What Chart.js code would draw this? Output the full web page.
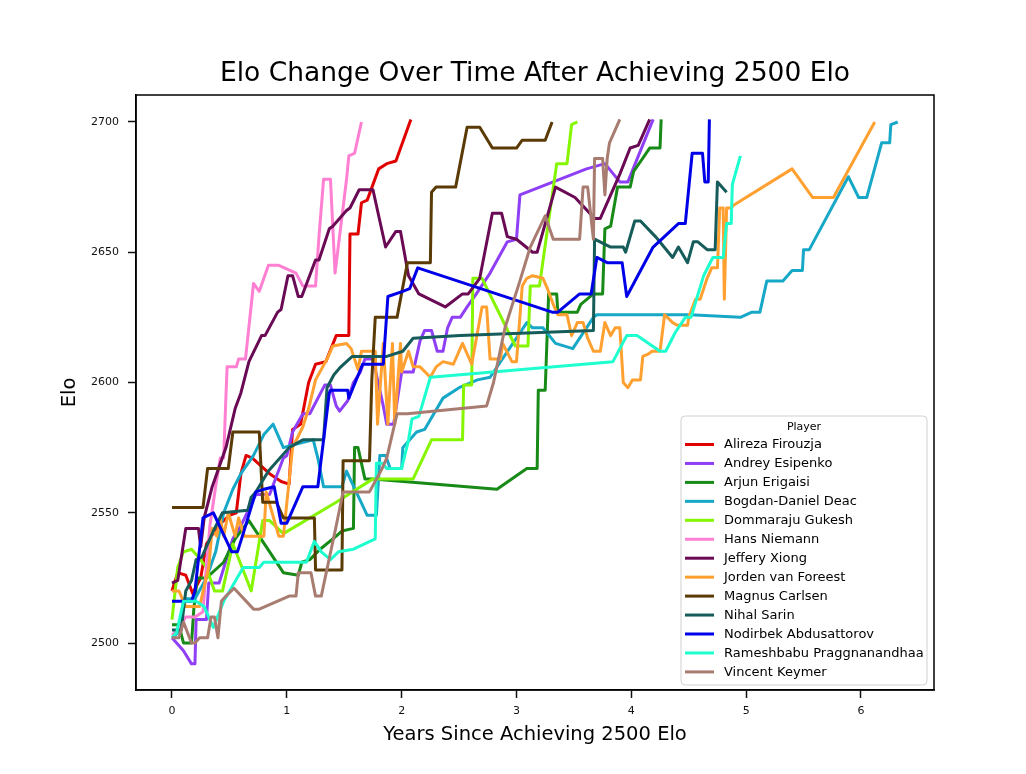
<!DOCTYPE html>
<html>
<head>
<meta charset="utf-8">
<script src="https://cdn.jsdelivr.net/npm/chart.js@4.4.1/dist/chart.umd.min.js"></script>
<style>
  html, body { margin: 0; padding: 0; background: #fff; }
  #c { display: block; }
</style>
</head>
<body>
<canvas id="c" width="1026" height="774"></canvas>
<script>
// ---- Data: [years since 2500, Elo] ----
const players = [
  "Alireza Firouzja", "Andrey Esipenko", "Arjun Erigaisi", "Bogdan-Daniel Deac",
  "Dommaraju Gukesh", "Hans Niemann", "Jeffery Xiong", "Jorden van Foreest",
  "Magnus Carlsen", "Nihal Sarin", "Nodirbek Abdusattorov",
  "Rameshbabu Praggnanandhaa", "Vincent Keymer"
];
const playerColors = [
  "#e00000", "#8f3ff5", "#178a17", "#17a8c8", "#86f500", "#ff7fd2", "#6a0a55",
  "#ffa030", "#5a3a05", "#155c5a", "#0000e8", "#1effd0", "#a87c70"
];

const firouzja = [[0,2520],[0.05,2527],[0.12,2526],[0.18,2519],[0.25,2525],[0.3,2538],[0.4,2545],[0.5,2549],[0.56,2550],[0.6,2565],[0.645,2572],[0.7,2571],[0.85,2565],[0.95,2562],[1.02,2561],[1.05,2582],[1.12,2584],[1.19,2600],[1.25,2607],[1.34,2608],[1.43,2618],[1.54,2618],[1.55,2657],[1.62,2657],[1.65,2669],[1.7,2670],[1.8,2682],[1.87,2684],[1.95,2685],[2.08,2701]];

const esipenko = [[0,2502],[0.1,2497],[0.17,2492],[0.2,2492],[0.21,2509],[0.3,2509],[0.32,2523],[0.41,2523],[0.53,2540],[0.6,2545],[0.73,2557],[0.85,2557],[0.97,2571],[1.0,2572],[1.05,2581],[1.14,2588],[1.2,2588],[1.33,2599],[1.38,2599],[1.43,2591],[1.46,2589],[1.53,2593],[1.58,2600],[1.64,2604],[1.68,2609],[1.75,2609],[1.84,2591],[1.87,2584],[1.93,2584],[2.0,2604],[2.1,2604],[2.16,2616],[2.2,2620],[2.26,2620],[2.31,2612],[2.36,2612],[2.4,2621],[2.44,2625],[2.51,2625],[2.57,2629],[2.65,2634],[2.77,2642],[2.92,2654],[3.0,2655],[3.03,2672],[3.32,2677],[3.61,2682],[3.77,2684],[3.9,2677],[3.97,2677],[4.19,2701]];

const erigaisi = [[0,2507],[0.06,2507],[0.1,2500],[0.17,2500],[0.19,2513],[0.22,2525],[0.3,2525],[0.45,2531],[0.55,2540],[0.67,2547],[0.97,2527],[1.1,2526],[1.13,2531],[1.2,2532],[1.29,2536],[1.43,2541],[1.48,2543],[1.58,2544],[1.59,2575],[1.62,2575],[1.68,2563],[1.75,2563],[2.83,2559],[3.09,2567],[3.18,2567],[3.19,2597],[3.25,2597],[3.28,2634],[3.35,2634],[3.36,2627],[3.53,2627],[3.56,2630],[3.67,2634],[3.75,2634],[3.77,2659],[3.82,2660],[3.88,2675],[3.99,2675],[4.02,2681],[4.16,2690],[4.25,2690],[4.26,2701]];

const deac = [[0,2502],[0.08,2505],[0.1,2517],[0.2,2517],[0.3,2525],[0.38,2535],[0.45,2550],[0.53,2559],[0.6,2565],[0.71,2572],[0.8,2580],[0.88,2584],[0.97,2575],[1.05,2576],[1.23,2578],[1.27,2571],[1.32,2560],[1.48,2560],[1.52,2566],[1.7,2549],[1.78,2549],[1.81,2572],[1.86,2572],[1.9,2567],[2.0,2567],[2.01,2575],[2.13,2581],[2.2,2582],[2.36,2594],[2.5,2598],[2.66,2601],[2.77,2602],[3.09,2623],[3.14,2621],[3.23,2621],[3.34,2615],[3.49,2613],[3.67,2625],[3.7,2626],[4.51,2626],[4.95,2625],[5.05,2627],[5.12,2627],[5.18,2639],[5.32,2639],[5.4,2643],[5.49,2643],[5.5,2651],[5.55,2651],[5.89,2679],[5.98,2671],[6.05,2671],[6.18,2692],[6.25,2692],[6.26,2699],[6.32,2700]];

const gukesh = [[0,2509],[0.05,2529],[0.1,2535],[0.17,2536],[0.23,2533],[0.3,2529],[0.37,2520],[0.44,2520],[0.53,2538],[0.69,2520],[0.79,2547],[0.85,2547],[0.97,2542],[1.43,2554],[1.75,2563],[2.1,2563],[2.26,2578],[2.53,2578],[2.54,2599],[2.61,2599],[2.62,2640],[2.7,2640],[2.99,2614],[3.1,2614],[3.12,2637],[3.2,2637],[3.35,2684],[3.44,2684],[3.48,2699],[3.53,2700]];

const niemann = [[0,2503],[0.05,2505],[0.12,2510],[0.2,2510],[0.27,2512],[0.3,2530],[0.33,2545],[0.38,2560],[0.42,2571],[0.45,2571],[0.47,2595],[0.48,2606],[0.56,2606],[0.58,2609],[0.64,2609],[0.71,2638],[0.76,2635],[0.84,2645],[0.93,2645],[1.08,2642],[1.14,2637],[1.25,2637],[1.28,2656],[1.32,2678],[1.38,2678],[1.42,2642],[1.52,2678],[1.54,2687],[1.59,2688],[1.65,2700]];

const xiong = [[0,2523],[0.05,2524],[0.12,2544],[0.23,2544],[0.25,2537],[0.28,2548],[0.35,2560],[0.47,2575],[0.55,2590],[0.6,2596],[0.67,2608],[0.78,2618],[0.81,2618],[0.92,2627],[0.95,2628],[1.01,2641],[1.05,2641],[1.1,2633],[1.13,2633],[1.25,2647],[1.28,2647],[1.37,2659],[1.4,2660],[1.52,2666],[1.55,2667],[1.63,2674],[1.75,2674],[1.86,2652],[1.95,2658],[1.99,2658],[2.06,2641],[2.15,2634],[2.38,2629],[2.53,2634],[2.58,2634],[2.68,2640],[2.79,2665],[2.87,2665],[2.92,2656],[3.0,2655],[3.14,2650],[3.18,2650],[3.34,2675],[3.51,2671],[3.68,2663],[3.73,2663],[3.9,2680],[3.99,2690],[4.06,2691],[4.16,2701]];

const vanForeest = [[0,2520],[0.06,2520],[0.12,2514],[0.24,2514],[0.32,2529],[0.35,2544],[0.39,2541],[0.42,2548],[0.45,2541],[0.49,2550],[0.55,2541],[0.58,2548],[0.63,2541],[0.8,2541],[0.82,2558],[0.93,2541],[0.97,2541],[1.05,2575],[1.14,2583],[1.19,2590],[1.25,2601],[1.35,2609],[1.4,2614],[1.52,2615],[1.56,2613],[1.62,2605],[1.65,2612],[1.77,2612],[1.79,2584],[1.84,2615],[1.88,2584],[1.92,2615],[1.94,2584],[1.99,2615],[2.0,2604],[2.06,2612],[2.1,2606],[2.16,2606],[2.25,2602],[2.3,2606],[2.36,2608],[2.45,2607],[2.53,2615],[2.61,2607],[2.7,2629],[2.74,2629],[2.77,2609],[2.86,2609],[2.88,2615],[2.96,2608],[3.0,2608],[3.05,2637],[3.09,2640],[3.14,2641],[3.23,2640],[3.27,2636],[3.32,2630],[3.36,2626],[3.44,2626],[3.48,2618],[3.53,2623],[3.58,2623],[3.62,2617],[3.67,2612],[3.73,2612],[3.77,2623],[3.82,2618],[3.86,2621],[3.9,2621],[3.93,2600],[3.97,2598],[4.01,2601],[4.08,2601],[4.1,2610],[4.15,2611],[4.18,2612],[4.25,2612],[4.29,2626],[4.36,2623],[4.4,2622],[4.49,2622],[4.5,2625],[4.56,2632],[4.6,2632],[4.66,2640],[4.7,2644],[4.75,2644],[4.77,2667],[4.8,2667],[4.81,2632],[4.83,2667],[4.87,2667],[4.89,2668],[5.4,2682],[5.58,2671],[5.76,2671],[6.12,2700]];

const carlsen = [[0,2552],[0.27,2552],[0.31,2567],[0.49,2567],[0.53,2581],[0.76,2581],[0.79,2554],[0.91,2554],[0.97,2548],[1.24,2548],[1.25,2528],[1.48,2528],[1.49,2570],[1.72,2570],[1.74,2601],[1.77,2625],[1.96,2625],[2.05,2646],[2.25,2646],[2.26,2673],[2.3,2675],[2.47,2675],[2.57,2698],[2.68,2698],[2.79,2690],[3.0,2690],[3.05,2693],[3.25,2693],[3.31,2700]];

const sarin = [[0,2505],[0.08,2505],[0.12,2520],[0.17,2524],[0.21,2532],[0.26,2533],[0.36,2543],[0.44,2550],[0.66,2551],[0.69,2556],[0.73,2558],[0.84,2566],[1.02,2575],[1.14,2578],[1.32,2578],[1.35,2598],[1.41,2603],[1.47,2606],[1.57,2610],[1.87,2610],[2.01,2612],[2.1,2617],[2.51,2618],[3.67,2620],[3.68,2655],[3.82,2652],[3.93,2652],[3.95,2650],[4.03,2662],[4.08,2662],[4.21,2656],[4.23,2655],[4.36,2648],[4.41,2652],[4.49,2646],[4.54,2654],[4.58,2654],[4.66,2651],[4.73,2651],[4.75,2677],[4.83,2673]];

const abdusattorov = [[0,2516],[0.17,2516],[0.2,2520],[0.27,2548],[0.36,2550],[0.52,2535],[0.57,2535],[0.62,2542],[0.73,2558],[0.8,2559],[0.89,2560],[0.95,2546],[1.0,2546],[1.14,2560],[1.27,2560],[1.37,2596],[1.38,2597],[1.53,2597],[1.54,2594],[1.66,2607],[1.84,2607],[1.88,2633],[2.01,2635],[2.07,2636],[2.14,2644],[3.31,2627],[3.36,2627],[3.55,2634],[3.65,2634],[3.7,2648],[3.79,2646],[3.92,2646],[3.96,2633],[4.19,2652],[4.41,2661],[4.47,2661],[4.53,2688],[4.62,2688],[4.64,2677],[4.67,2677],[4.68,2701]];

const praggnanandhaa = [[0,2502],[0.04,2504],[0.1,2516],[0.21,2516],[0.28,2514],[0.36,2506],[0.45,2516],[0.62,2529],[0.76,2529],[0.8,2531],[1.17,2531],[1.24,2539],[1.3,2535],[1.38,2532],[1.45,2535],[1.58,2536],[1.77,2540],[1.78,2569],[1.83,2569],[1.87,2567],[2.0,2567],[2.06,2578],[2.09,2586],[2.15,2587],[2.25,2602],[2.51,2603],[3.84,2608],[3.96,2618],[4.05,2618],[4.25,2612],[4.3,2612],[4.38,2619],[4.47,2625],[4.52,2625],[4.63,2641],[4.71,2648],[4.8,2648],[4.83,2661],[4.87,2661],[4.88,2676],[4.95,2687]];

const keymer = [[0,2502],[0.06,2502],[0.1,2508],[0.17,2500],[0.2,2500],[0.24,2502],[0.31,2502],[0.34,2510],[0.37,2510],[0.4,2502],[0.43,2516],[0.47,2518],[0.54,2521],[0.71,2513],[0.76,2513],[1.02,2518],[1.08,2518],[1.1,2527],[1.21,2527],[1.25,2518],[1.3,2518],[1.43,2545],[1.49,2558],[1.72,2558],[1.83,2567],[1.87,2571],[1.96,2588],[2.05,2588],[2.74,2591],[2.8,2600],[2.9,2621],[3.03,2639],[3.12,2652],[3.25,2664],[3.32,2655],[3.55,2655],[3.58,2675],[3.62,2675],[3.67,2655],[3.68,2686],[3.75,2686],[3.77,2672],[3.79,2686],[3.81,2692],[3.9,2701]];

const seriesPoints = [firouzja, esipenko, erigaisi, deac, gukesh, niemann, xiong,
  vanForeest, carlsen, sarin, abdusattorov, praggnanandhaa, keymer];

const xTicks = [0, 1, 2, 3, 4, 5, 6];
const yTicks = [2500, 2550, 2600, 2650, 2700];

const titleText = "Elo Change Over Time After Achieving 2500 Elo";
const xLabel = "Years Since Achieving 2500 Elo";
const yLabel = "Elo";
const legendTitle = "Player";

// ---- Build chart ----
const n = players.length;
const datasets = players.map((name, i) => ({
  label: name,
  data: seriesPoints[i].map(p => ({ x: p[0], y: p[1] })),
  borderColor: playerColors[i],
  backgroundColor: playerColors[i],
  borderWidth: 3,
  pointRadius: 0,
  showLine: true,
  tension: 0,
  fill: false,
  order: n - 1 - i,
  borderJoinStyle: 'round',
  borderCapStyle: 'butt'
}));

const FONT = "'DejaVu Sans', 'Liberation Sans', sans-serif";

const decorPlugin = {
  id: 'decor',
  afterDraw(chart) {
    const ctx = chart.ctx;
    const a = chart.chartArea;
    ctx.save();
    // frame
    ctx.strokeStyle = '#000';
    ctx.lineWidth = 1.5;
    ctx.strokeRect(a.left, a.top, a.right - a.left, a.bottom - a.top);

    // title
    ctx.fillStyle = '#000';
    ctx.textAlign = 'center';
    ctx.textBaseline = 'middle';
    ctx.font = '26.5px ' + FONT;
    ctx.fillText(titleText, (a.left + a.right) / 2, 74);

    // axis titles
    ctx.font = '19.5px ' + FONT;
    ctx.fillText(xLabel, (a.left + a.right) / 2, 735);
    ctx.save();
    ctx.translate(70, (a.top + a.bottom) / 2);
    ctx.rotate(-Math.PI / 2);
    ctx.fillText(yLabel, 0, 0);
    ctx.restore();

    // legend
    const lx = 681, ly = 416, lw = 246, lh = 269, r = 4;
    ctx.beginPath();
    ctx.moveTo(lx + r, ly);
    ctx.lineTo(lx + lw - r, ly);
    ctx.quadraticCurveTo(lx + lw, ly, lx + lw, ly + r);
    ctx.lineTo(lx + lw, ly + lh - r);
    ctx.quadraticCurveTo(lx + lw, ly + lh, lx + lw - r, ly + lh);
    ctx.lineTo(lx + r, ly + lh);
    ctx.quadraticCurveTo(lx, ly + lh, lx, ly + lh - r);
    ctx.lineTo(lx, ly + r);
    ctx.quadraticCurveTo(lx, ly, lx + r, ly);
    ctx.closePath();
    ctx.fillStyle = 'rgba(255,255,255,0.85)';
    ctx.fill();
    ctx.strokeStyle = '#d0d0d0';
    ctx.lineWidth = 1;
    ctx.stroke();

    ctx.fillStyle = '#000';
    ctx.font = '11px ' + FONT;
    ctx.textAlign = 'center';
    ctx.fillText(legendTitle, 804, 427);

    ctx.textAlign = 'left';
    ctx.font = '13px ' + FONT;
    chart.data.datasets.forEach((ds, i) => {
      const y = 444.5 + i * 18.95;
      ctx.strokeStyle = ds.borderColor;
      ctx.lineWidth = 3;
      ctx.beginPath();
      ctx.moveTo(685, y);
      ctx.lineTo(714, y);
      ctx.stroke();
      ctx.fillStyle = '#000';
      ctx.fillText(ds.label, 724, y + 0.5);
    });
    ctx.restore();
  }
};

const tickFont = { family: FONT, size: 11 };

new Chart(document.getElementById('c').getContext('2d'), {
  type: 'scatter',
  data: { datasets },
  plugins: [decorPlugin],
  options: {
    responsive: false,
    animation: false,
    devicePixelRatio: 1,
    layout: { padding: { left: 70, right: 92, top: 95, bottom: 24 } },
    plugins: {
      legend: { display: false },
      tooltip: { enabled: false },
      title: { display: false }
    },
    scales: {
      x: {
        type: 'linear',
        min: -0.3135,
        max: 6.636,
        afterBuildTicks: s => { s.ticks = xTicks.map(v => ({ value: v })); },
        afterFit: s => { s.height = 60; },
        ticks: { color: '#111', font: tickFont, padding: 7, maxRotation: 0, callback: v => String(v) },
        grid: { drawOnChartArea: false, drawTicks: true, tickLength: 8, color: '#111', tickWidth: 1.5 },
        border: { display: true, color: '#000', width: 1.5 }
      },
      y: {
        type: 'linear',
        min: 2481.96,
        max: 2710.36,
        afterBuildTicks: s => { s.ticks = yTicks.map(v => ({ value: v })); },
        afterFit: s => { s.width = 66; },
        ticks: { color: '#111', font: tickFont, padding: 9, callback: v => String(v) },
        grid: { drawOnChartArea: false, drawTicks: true, tickLength: 8, color: '#111', tickWidth: 1.5 },
        border: { display: true, color: '#000', width: 1.5 }
      }
    }
  }
});
</script>
</body>
</html>
